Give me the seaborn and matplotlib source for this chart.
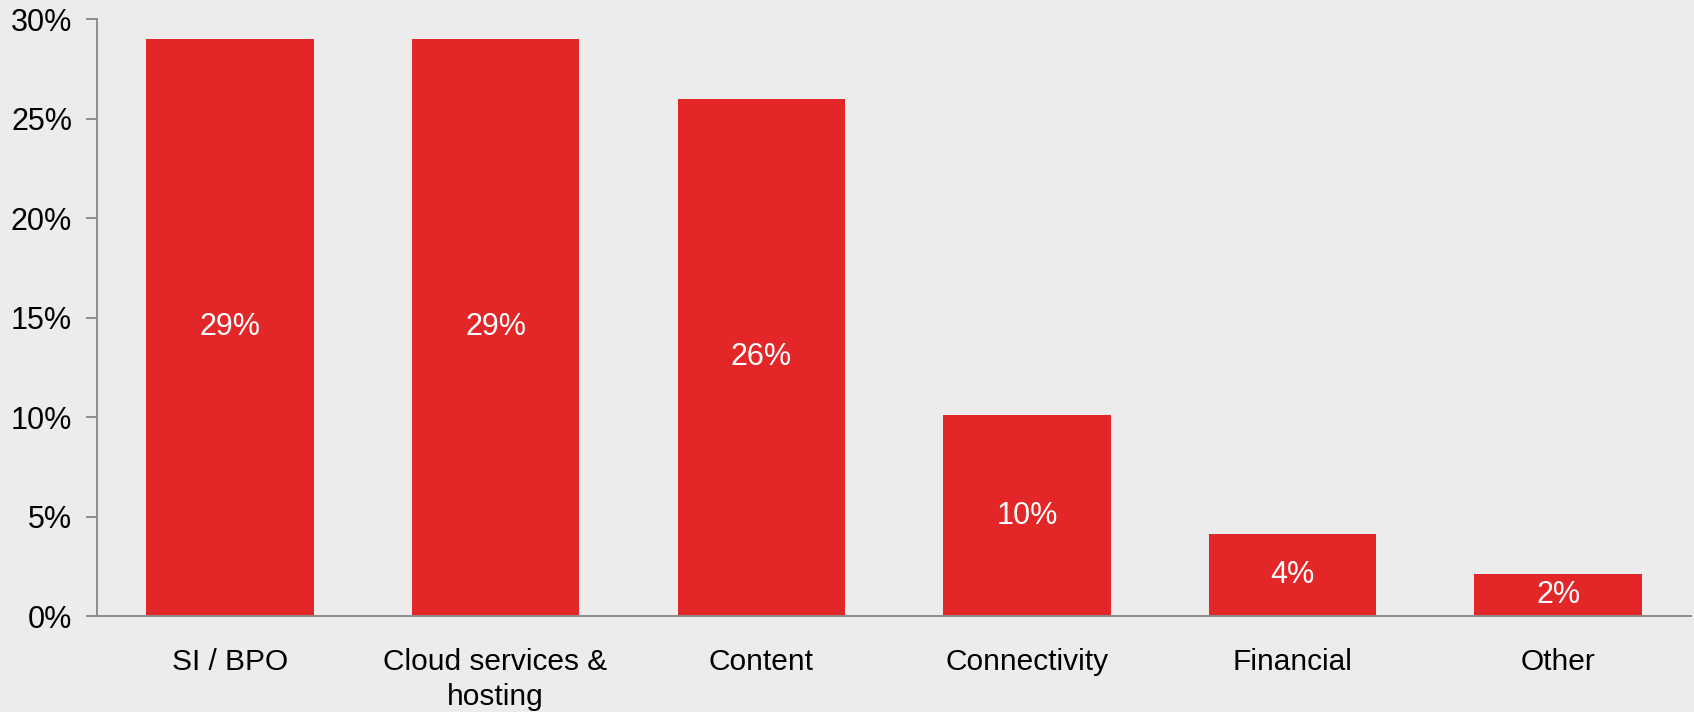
import matplotlib
matplotlib.use("Agg")
import matplotlib.pyplot as plt
import seaborn as sns
import pandas as pd
from matplotlib.ticker import FuncFormatter

# Share of revenue by segment (%)
categories = ["SI / BPO", "Cloud services &\nhosting", "Content",
              "Connectivity", "Financial", "Other"]
shares = [29.0, 29.0, 26.0, 10.1, 4.1, 2.1]
y_ticks = [0, 5, 10, 15, 20, 25, 30]

BG = "#EBECEB"
BAR = "#E32628"
AXIS = "#8C8C8C"

sns.set_style("white")
plt.rcParams["font.family"] = ["Liberation Sans", "DejaVu Sans"]

df = pd.DataFrame({"segment": categories, "share": shares})

fig = plt.figure(figsize=(16.94, 7.12), dpi=100, facecolor=BG)
ax = fig.add_axes([0.0573, 0.1348, 0.9409, 0.8385])
ax.set_facecolor(BG)

sns.barplot(data=df, x="segment", y="share", color=BAR, saturation=1,
            width=0.63, linewidth=0, edgecolor="none", ax=ax)

ax.set_xlim(-0.5, len(categories) - 0.5)
ax.set_ylim(0, 30)
ax.set_yticks(y_ticks)
ax.yaxis.set_major_formatter(FuncFormatter(lambda v, _: f"{v:.0f}%"))
ax.set_xlabel("")
ax.set_ylabel("")

for side in ("top", "right"):
    ax.spines[side].set_visible(False)
for side in ("left", "bottom"):
    ax.spines[side].set_color(AXIS)
    ax.spines[side].set_linewidth(1.4)

ax.tick_params(axis="y", length=8, width=1.4, color=AXIS, pad=10,
               labelsize=22, labelcolor="black", left=True)
ax.tick_params(axis="x", length=0, pad=23, labelsize=21.5, labelcolor="black")
for lbl in ax.get_xticklabels():
    lbl.set_linespacing(1.3)

# Value labels centred inside each bar
for i, v in enumerate(shares):
    ax.text(i, v / 2, f"{v:.0f}%", ha="center", va="center",
            color="white", fontsize=22)

fig.savefig("out.png", dpi=100, facecolor=BG)
